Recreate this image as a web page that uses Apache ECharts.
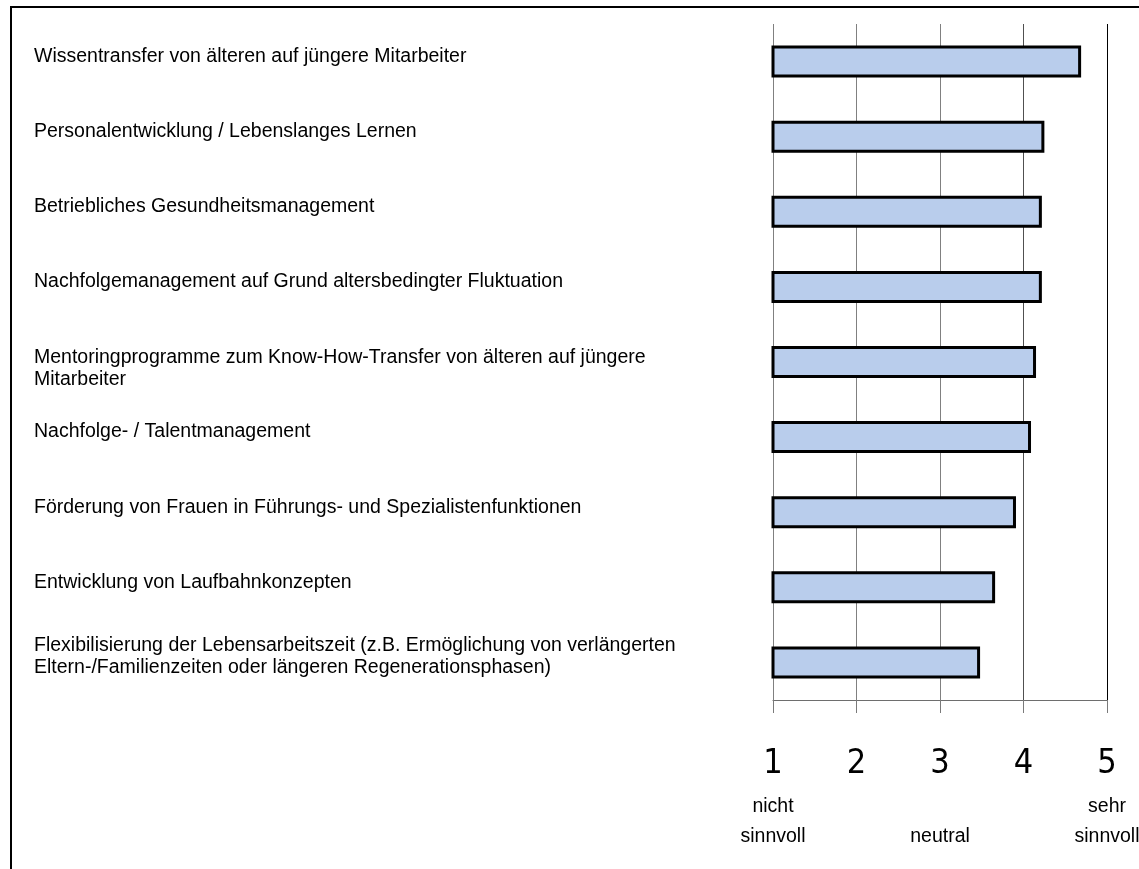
<!DOCTYPE html>
<html>
<head>
<meta charset="utf-8">
<script src="https://cdn.jsdelivr.net/npm/echarts@6/dist/echarts.min.js"></script>
<style>
  html, body { margin: 0; padding: 0; background: #fff; }
  #chart { width: 1139px; height: 869px; }
</style>
</head>
<body>
<div id="chart"></div>
<script>
// Maßnahmen (top to bottom) and their mean rating on the 1–5 scale
const measures = [
  'Wissentransfer von älteren auf jüngere Mitarbeiter',
  'Personalentwicklung / Lebenslanges Lernen',
  'Betriebliches Gesundheitsmanagement',
  'Nachfolgemanagement auf Grund altersbedingter Fluktuation',
  'Mentoringprogramme zum Know-How-Transfer von älteren auf jüngere\nMitarbeiter',
  'Nachfolge- / Talentmanagement',
  'Förderung von Frauen in Führungs- und Spezialistenfunktionen',
  'Entwicklung von Laufbahnkonzepten',
  'Flexibilisierung der Lebensarbeitszeit (z.B. Ermöglichung von verlängerten\nEltern-/Familienzeiten oder längeren Regenerationsphasen)'
];
const meanScores = [4.69, 4.25, 4.22, 4.22, 4.15, 4.09, 3.91, 3.66, 3.48];

// Scale ticks and the wording under them
const scaleTicks = [1, 2, 3, 4, 5];
const scaleCaptions = ['nicht\nsinnvoll', '', '\nneutral', '', 'sehr\nsinnvoll'];

// Styling
const TEXT_FONT = "'Liberation Sans', Arial, sans-serif";
const DIGIT_FONT = "'DejaVu Sans Condensed', 'Liberation Sans', sans-serif";
// Vertical placement of each row label relative to its bar: empty spacer
// lines above ('a') or below ('b') the text, in px
const labelSpacer = [
  { b: 10 }, { b: 10 }, { b: 10 }, { b: 10 }, { a: 14 },
  { b: 10 }, { b: 10 }, { b: 10 }, { b: 12 }
];

const richRow = {
  t: { fontFamily: TEXT_FONT, fontSize: 19.5, lineHeight: 22, color: '#000', align: 'left' }
};
labelSpacer.forEach(function (sp) {
  const h = sp.a || sp.b;
  richRow['s' + h] = { fontSize: 1, lineHeight: h, color: 'rgba(0,0,0,0)' };
});

const chart = echarts.init(document.getElementById('chart'), null, { renderer: 'canvas' });

chart.setOption({
  animation: false,
  backgroundColor: '#ffffff',
  grid: { left: 773, right: 32, top: 24, bottom: 169, containLabel: false, outerBoundsMode: 'none' },
  xAxis: {
    type: 'value',
    min: scaleTicks[0],
    max: scaleTicks[scaleTicks.length - 1],
    interval: 1,
    axisLine: { show: true, lineStyle: { color: '#6e6e6e', width: 1 } },
    axisTick: { show: true, length: 13, lineStyle: { color: '#7a7a7a', width: 1 } },
    splitLine: {
      show: true,
      lineStyle: { color: ['#808080', '#808080', '#808080', '#505050', '#000000'], width: 1 }
    },
    axisLabel: {
      margin: 36,
      formatter: function (v) {
        const i = scaleTicks.indexOf(v);
        const cap = i >= 0 ? scaleCaptions[i] : '';
        let s = '{d|' + v + '}';
        if (cap) {
          s += '\n' + cap.split('\n').map(function (line) { return '{c|' + (line || ' ') + '}'; }).join('\n');
        }
        return s;
      },
      rich: {
        d: { fontFamily: DIGIT_FONT, fontSize: 34, lineHeight: 56, color: '#000', align: 'center' },
        c: { fontFamily: TEXT_FONT, fontSize: 19.5, lineHeight: 30, color: '#000', align: 'center' }
      }
    }
  },
  yAxis: {
    type: 'category',
    inverse: true,
    data: measures,
    axisLine: { show: false },
    axisTick: { show: false },
    splitLine: { show: false },
    axisLabel: {
      margin: 739,
      align: 'left',
      verticalAlign: 'middle',
      formatter: function (name, idx) {
        const sp = labelSpacer[idx] || {};
        const lines = name.split('\n').map(function (l) { return '{t|' + l + '}'; });
        if (sp.a) lines.unshift('{s' + sp.a + '| }');
        if (sp.b) lines.push('{s' + sp.b + '| }');
        return lines.join('\n');
      },
      rich: richRow
    }
  },
  series: [{
    type: 'bar',
    data: meanScores,
    barWidth: 32,
    itemStyle: { color: '#b9cdec', borderColor: '#000000', borderWidth: 3 }
  }],
  graphic: [
    { type: 'line', shape: { x1: 10, y1: 7, x2: 1139, y2: 7 }, style: { stroke: '#000', lineWidth: 2 } },
    { type: 'line', shape: { x1: 11, y1: 7, x2: 11, y2: 869 }, style: { stroke: '#000', lineWidth: 2 } }
  ]
});
</script>
</body>
</html>
